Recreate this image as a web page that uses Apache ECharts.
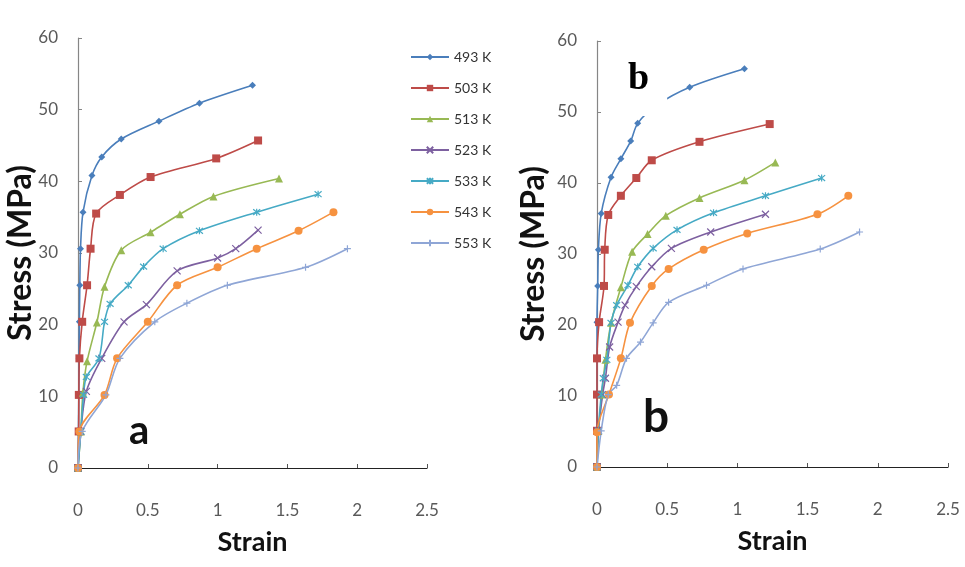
<!DOCTYPE html>
<html>
<head>
<meta charset="utf-8">
<title>Stress-Strain</title>
<script src="https://cdn.jsdelivr.net/npm/echarts@6/dist/echarts.min.js"></script>
<style>
    html, body { margin: 0; padding: 0; background: #fff; }
    #chart { width: 965px; height: 567px; }
</style>
</head>
<body>
<div id="chart"></div>
<script>
var temps = ['493 K', '503 K', '513 K', '523 K', '533 K', '543 K', '553 K'];
var colors = ['#4A7EBB', '#BE4B48', '#98B954', '#7D60A0', '#46AAC5', '#F69240', '#8FA6D6'];
var xTicks = [0, 0.5, 1, 1.5, 2, 2.5];
var yTicks = [0, 10, 20, 30, 40, 50, 60];

// panel a  [strain, stress]
var a493 = [[0,0],[0.003,5.1],[0.006,10.2],[0.008,15.3],[0.01,20.4],[0.013,25.5],[0.018,30.6],[0.036,35.7],[0.10,40.8],[0.17,43.4],[0.31,45.9],[0.58,48.4],[0.87,50.9],[1.25,53.4]];
var a503 = [[0,0],[0.005,5.1],[0.006,10.2],[0.01,15.3],[0.03,20.4],[0.065,25.5],[0.09,30.6],[0.13,35.5],[0.30,38.1],[0.52,40.6],[0.99,43.2],[1.29,45.7]];
var a513 = [[0,0],[0.02,5.1],[0.035,10.5],[0.065,14.9],[0.135,20.3],[0.19,25.3],[0.31,30.4],[0.52,32.9],[0.73,35.4],[0.97,37.9],[1.44,40.4]];
var a523 = [[0,0],[0.02,5.1],[0.06,10.7],[0.17,15.3],[0.33,20.4],[0.49,22.8],[0.71,27.5],[1.0,29.3],[1.13,30.6],[1.29,33.2]];
var a533 = [[0,0],[0.02,5.1],[0.04,10.2],[0.06,12.7],[0.15,15.3],[0.19,20.4],[0.23,22.9],[0.36,25.5],[0.47,28.1],[0.61,30.6],[0.87,33.1],[1.28,35.7],[1.72,38.2]];
var a543 = [[0,0],[0.01,5.1],[0.19,10.2],[0.28,15.3],[0.50,20.4],[0.71,25.5],[1.0,28.0],[1.28,30.6],[1.58,33.1],[1.83,35.7]];
var a553 = [[0,0],[0.03,5.1],[0.2,10.2],[0.3,15.3],[0.55,20.4],[0.78,23.0],[1.07,25.5],[1.63,28.0],[1.93,30.6]];

// panel b  [strain, stress]
var b493 = [[0,0],[0,5.1],[0,10.2],[0,15.3],[0,20.4],[0.005,25.5],[0.01,30.6],[0.03,35.7],[0.10,40.8],[0.17,43.4],[0.24,45.9],[0.29,48.4],[0.42,50.9],[0.66,53.5],[1.05,56.1]];
var b503 = [[0,0],[0,5.1],[0,10.2],[0,15.3],[0.015,20.4],[0.05,25.5],[0.055,30.6],[0.08,35.5],[0.17,38.2],[0.28,40.7],[0.39,43.2],[0.73,45.8],[1.23,48.3]];
var b513 = [[0,0],[0.01,5.1],[0.035,10.2],[0.06,15.1],[0.10,20.3],[0.17,25.3],[0.25,30.3],[0.36,32.8],[0.49,35.4],[0.73,37.9],[1.05,40.4],[1.27,42.9]];
var b523 = [[0,0],[0.01,5.1],[0.04,10.2],[0.06,12.5],[0.09,16.9],[0.15,20.4],[0.2,22.8],[0.28,25.4],[0.39,28.2],[0.53,30.8],[0.81,33.1],[1.2,35.6]];
var b533 = [[0,0],[0.01,5.1],[0.03,10.2],[0.045,12.5],[0.07,15.1],[0.10,20.3],[0.14,22.8],[0.22,25.6],[0.29,28.2],[0.40,30.8],[0.57,33.4],[0.83,35.8],[1.2,38.2],[1.6,40.7]];
var b543 = [[0,0],[0,4.9],[0.085,10.2],[0.17,15.3],[0.235,20.3],[0.39,25.5],[0.51,27.9],[0.76,30.6],[1.07,32.9],[1.57,35.6],[1.79,38.2]];
var b553 = [[0,0],[0.03,5.1],[0.08,10.2],[0.14,11.5],[0.21,15.3],[0.31,17.6],[0.40,20.3],[0.51,23.2],[0.78,25.6],[1.04,27.9],[1.59,30.7],[1.87,33.1]];

var panelA = [a493, a503, a513, a523, a533, a543, a553];
var panelB = [b493, b503, b513, b523, b533, b543, b553];

var symbols = [
    'diamond',
    'rect',
    'triangle',
    'path://M0,0L10,10M10,0L0,10',
    'path://M0,0L10,10M10,0L0,10M5,-1L5,11',
    'circle',
    'path://M5,0L5,10M0,5L10,5'
];
var symbolSizes = [7, 8, 8, 7, 7, 8, 7];

var font = 'Lato, "Open Sans", sans-serif';

function makeSeries(data, i, axisIndex) {
    var open = symbols[i].indexOf('path://') === 0;
    return {
        name: temps[i],
        type: 'line',
        xAxisIndex: axisIndex,
        yAxisIndex: axisIndex,
        data: data,
        smooth: 0.3,
        symbol: symbols[i],
        symbolSize: symbolSizes[i],
        showAllSymbol: true,
        lineStyle: { color: colors[i], width: 1.6 },
        itemStyle: open
            ? { color: colors[i], borderColor: colors[i], borderWidth: 1.2 }
            : { color: colors[i] },
        emphasis: { disabled: true },
        animation: false
    };
}

function xAxis(grid) {
    return {
        type: 'value', gridIndex: grid, min: 0, max: 2.5, interval: 0.5,
        name: 'Strain', nameLocation: 'middle', nameGap: 61, nameMoveOverlap: false,
        nameTextStyle: { fontFamily: font, fontWeight: 'bold', fontSize: 27, color: '#111' },
        axisLine: { show: true, onZero: false, lineStyle: { color: '#222', width: 1.2 } },
        axisTick: { show: true, inside: true, length: 4, lineStyle: { color: '#555' } },
        axisLabel: { margin: 34, fontFamily: font, fontSize: 17, color: '#595959' },
        splitLine: { show: false }
    };
}

function yAxis(grid, gap) {
    return {
        type: 'value', gridIndex: grid, min: 0, max: 60, interval: 10,
        name: 'Stress (MPa)', nameLocation: 'middle', nameGap: gap, nameRotate: 90,
        nameMoveOverlap: false,
        nameTextStyle: { fontFamily: font, fontWeight: 'bold', fontSize: 32, color: '#111' },
        axisLine: { show: true, lineStyle: { color: '#868686', width: 1.2 } },
        axisTick: { show: true, inside: true, length: 4, lineStyle: { color: '#868686' } },
        axisLabel: { margin: 20, fontFamily: font, fontSize: 17, color: '#595959' },
        splitLine: { show: false }
    };
}

var series = [];
panelA.forEach(function (d, i) { series.push(makeSeries(d, i, 0)); });
panelB.forEach(function (d, i) { series.push(makeSeries(d, i, 1)); });

var myChart = echarts.init(document.getElementById('chart'), null, { renderer: 'canvas' });

var option = {
    backgroundColor: '#fff',
    animation: false,
    grid: [
        { left: 78, top: 38, width: 349, height: 430 },
        { left: 597, top: 41, width: 351, height: 426 }
    ],
    xAxis: [xAxis(0), xAxis(1)],
    yAxis: [yAxis(0, 41), yAxis(1, 47)],
    legend: {
        data: temps,
        orient: 'vertical',
        left: 405,
        top: 45,
        itemWidth: 38,
        itemHeight: 8,
        itemGap: 17,
        textStyle: { fontFamily: font, fontSize: 14, color: '#333' },
        selectedMode: false
    },
    graphic: [
        {
            type: 'text', left: 129, top: 411, z: 10,
            style: { text: 'a', fontFamily: font, fontWeight: 'bold', fontSize: 40, fill: '#111' }
        },
        {
            type: 'text', left: 643, top: 394, z: 10,
            style: { text: 'b', fontFamily: font, fontWeight: 'bold', fontSize: 46, fill: '#111' }
        },
        {
            // label box in panel b, white background hides part of the 493 K curve
            type: 'text', left: 608, top: 56, z: 10,
            style: {
                text: 'b', fontFamily: '"Liberation Serif", "Times New Roman", serif',
                fontWeight: 'bold', fontSize: 38, fill: '#000',
                backgroundColor: '#fff', padding: [4, 18, 18, 20]
            }
        }
    ],
    series: series
};

myChart.setOption(option);
</script>
</body>
</html>
